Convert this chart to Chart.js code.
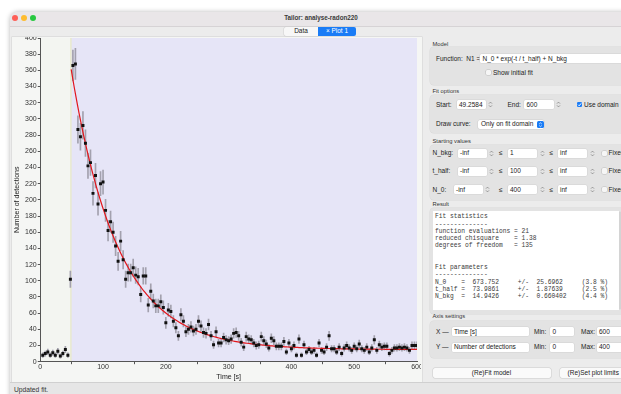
<!DOCTYPE html>
<html><head><meta charset="utf-8">
<title>Tailor: analyse-radon220</title>
<script src="https://cdn.jsdelivr.net/npm/chart.js@4.4.1/dist/chart.umd.min.js"></script>
<style>
html,body{margin:0;padding:0;}
body{width:621px;height:394px;overflow:hidden;position:relative;background:#fff;font-family:"Liberation Sans",Arial,Helvetica,sans-serif;color:#222;}
#ui div{position:absolute;white-space:pre;}
#ui svg{display:block;}
#plotw{position:absolute;left:12px;top:37px;width:409px;height:345px;background:#f5f6f4;overflow:hidden;}
#c{display:block;position:absolute;left:0;top:-4px;}
</style></head><body>
<div id="ui"></div>
<div id="plotw"><canvas id="c" width="409" height="349"></canvas></div>
<script>
// ---------- data ----------
const times = [
  4, 8, 12, 16, 20, 24, 28, 32, 36, 40,
  44, 48, 52, 56, 60, 64, 68, 72, 76, 80,
  84, 88, 92, 96, 100, 104, 108, 112, 116, 120,
  124, 128, 132, 136, 140, 144, 148, 152, 156, 160,
  164, 168, 172, 176, 180, 184, 188, 192, 196, 200,
  204, 208, 212, 216, 220, 224, 228, 232, 236, 240,
  244, 248, 252, 256, 260, 264, 268, 272, 276, 280,
  284, 288, 292, 296, 300, 304, 308, 312, 316, 320,
  324, 328, 332, 336, 340, 344, 348, 352, 356, 360,
  364, 368, 372, 376, 380, 384, 388, 392, 396, 400,
  404, 408, 412, 416, 420, 424, 428, 432, 436, 440,
  444, 448, 452, 456, 460, 464, 468, 472, 476, 480,
  484, 488, 492, 496, 500, 504, 508, 512, 516, 520,
  524, 528, 532, 536, 540, 544, 548, 552, 556, 560,
  564, 568, 572, 576, 580, 584, 588, 592, 596, 600
];
const counts = [
  8, 10, 12, 8, 11, 8, 13, 7, 10, 15,
  8, 102, 366, 368, 287, 278, 292, 270, 242, 246,
  208, 230, 195, 220, 222, 187, 162, 173, 160, 143,
  124, 149, 126, 102, 110, 110, 116, 107, 105, 83,
  106, 106, 70, 87, 75, 69, 69, 74, 67, 48,
  64, 62, 50, 42, 32, 58, 50, 37, 40, 43,
  38, 40, 50, 44, 36, 35, 46, 32, 21, 37,
  23, 23, 30, 27, 26, 28, 35, 36, 32, 24,
  18, 31, 28, 27, 23, 20, 21, 31, 26, 22,
  17, 29, 26, 19, 19, 19, 25, 12, 23, 16,
  20, 8, 28, 8, 21, 12, 15, 12, 14, 8,
  23, 14, 12, 18, 32, 16, 16, 12, 18, 10,
  17, 20, 17, 14, 19, 16, 22, 16, 14, 18,
  12, 17, 27, 14, 21, 18, 19, 19, 10, 14,
  17, 17, 18, 17, 18, 17, 14, 20, 20, 20
];
const fitDomain = [49.2584, 600];
const fitParams = [673.752, 73.9861, 14.9426]; // N_0, t_half, N_bkg
const xRange = [0, 600];
const yRange = [0, 400];
const xTickStep = 100;
const yTickStep = 20;

// ---------- window chrome / side panel ----------
const ui = document.getElementById('ui');
function el(css, txt){ const d=document.createElement('div'); d.style.cssText=css; if(txt!=null) d.textContent=txt; ui.appendChild(d); return d; }
function box(x,y,w,h,css){ return el(`left:${x}px;top:${y}px;width:${w}px;height:${h}px;${css||''}`); }
function txt(x,yc,s,css,fs){ fs=fs||6.5; return el(`left:${x}px;top:${yc-5}px;height:10px;line-height:10px;font-size:${fs}px;color:#222;${css||''}`, s); }
function inp(x,yc,w,s){ box(x,yc-4.5,w,9,'background:#fff;border-radius:1.5px;box-shadow:0 0 0 0.5px #d2d2d2'); txt(x+2.5,yc,s); }
function spin(x,yc){ const d=box(x,yc-4.5,5,9,''); d.innerHTML='<svg width="5" height="9" viewBox="0 0 5 9"><path d="M1 3.6L2.5 2.1L4 3.6M1 5.4L2.5 6.9L4 5.4" fill="none" stroke="#777" stroke-width="0.7"/></svg>'; }
function chk(x,yc,on){ const d=box(x,yc-2.6,5.2,5.2, on?'background:#1a7cf6;border-radius:1.3px':'background:#f6f6f6;border-radius:1.3px;box-shadow:0 0 0 0.5px #bdbdbd'); if(on) d.innerHTML='<svg width="5.2" height="5.2" viewBox="0 0 5 5"><path d="M1 2.6L2.1 3.7L4 1.3" fill="none" stroke="#fff" stroke-width="0.9"/></svg>'; }
function grp(y,h){ box(430,y,220,h,'background:#e3e3e3;border-radius:4px;box-shadow:0 0 0 0.5px #d8d8d8'); }
function gtitle(y,s){ txt(432.5,y,s,'color:#333',5.8); }

// window
box(10,12,640,400,'background:#ececec;border-radius:8px 8px 0 0;box-shadow:0 0 5px rgba(0,0,0,0.28)');
box(10,12,640,14,'background:#e9e6e8;border-radius:8px 8px 0 0;border-bottom:0.5px solid #d6d3d5');
box(12,15,6,6,'background:#fe5f57;border-radius:50%');
box(21,15,6,6,'background:#febc2e;border-radius:50%');
box(30,15,6,6,'background:#28c840;border-radius:50%');
el('left:221px;top:13px;width:200px;height:10px;line-height:10px;text-align:center;font-size:6.3px;font-weight:bold;color:#3a3a3a','Tailor: analyse-radon220');
// tabs
box(284,27,34,8.5,'background:#f7f7f7;border-radius:2px 0 0 2px;box-shadow:0 0 0 0.5px #cfcfcf');
el('left:284px;top:26.3px;width:34px;height:10px;line-height:10px;text-align:center;font-size:6.5px;color:#222','Data');
box(318,27,38,8.5,'background:#1a7cf6;border-radius:0 2px 2px 0');
el('left:318px;top:26.3px;width:38px;height:10px;line-height:10px;text-align:center;font-size:6.5px;color:#fff','× Plot 1');
// plot widget frame
box(11.5,36.5,410,346,'background:#f5f6f4;box-shadow:0 0 0 0.5px #cfcfcf');
// status bar
box(10,382,640,12,'background:#e6e6e6;border-top:0.5px solid #d0d0d0');
txt(14,389.5,'Updated fit.','color:#333',6.7);

// Model
gtitle(44,'Model');
grp(47,38);
txt(436,58.5,'Function:  N1 =');
inp(480,58.5,160,'N_0 * exp(-t / t_half) + N_bkg');
chk(486,72.7,false); txt(493,72.7,'Show initial fit');
// Fit options
gtitle(91.3,'Fit options');
grp(95,37.7);
txt(436,104.7,'Start:');
inp(456.5,104.7,29,'49.2584'); spin(487.5,104.7);
txt(507.5,104.7,'End:');
inp(524,104.7,29.5,'600'); spin(556,104.7);
chk(576.5,104.7,true); txt(584,104.7,'Use domain');
txt(436,124.3,'Draw curve:');
box(477.5,119.5,66.5,9.5,'background:#fff;border-radius:2px;box-shadow:0 0 0 0.5px #cfcfcf');
txt(481,124.3,'Only on fit domain');
box(536.5,120.5,7,7.5,'background:#1a7cf6;border-radius:1.5px');
box(536.5,120.5,7,7.5,'').innerHTML='<svg width="7" height="7.5" viewBox="0 0 7 7.5"><path d="M2.2 3L3.5 1.8L4.8 3M2.2 4.5L3.5 5.7L4.8 4.5" fill="none" stroke="#fff" stroke-width="0.7"/></svg>';
// Starting values
gtitle(141,'Starting values');
grp(145,54.5);
const svNames = ['N_bkg:', 't_half:', 'N_0:'];
const svStart = ['1', '100', '400'];
const svY = [153.2, 171, 189.5];
const svX0 = [457.5, 457.5, 453.5];
svNames.forEach((n,i)=>{
  const yc = svY[i];
  txt(432.5,yc,n);
  inp(svX0[i],yc,29,'-inf'); spin(svX0[i]+31.5,yc);
  txt(499,yc,'≤');
  inp(507.5,yc,29.5,svStart[i]); spin(539.5,yc);
  txt(549.5,yc,'≤');
  inp(557.5,yc,29.5,'inf'); spin(589.5,yc);
  chk(601.5,yc,false); txt(608.5,yc,'Fixed');
});
// Result
gtitle(204.3,'Result');
grp(208,106);
box(432.5,210.7,188,99.5,'background:#fff');
box(618.6,211,2.4,99,'background:#d4d4d4;border-radius:1px');
const resultLines = [
  'Fit statistics',
  '--------------',
  'function evaluations = 21',
  'reduced chisquare    = 1.38',
  'degrees of freedom   = 135',
  '',
  '',
  'Fit parameters',
  '--------------',
  'N_0    =  673.752     +/-  25.6962     (3.8 %)',
  't_half =  73.9861     +/-  1.87639     (2.5 %)',
  'N_bkg  =  14.9426     +/-  0.660402    (4.4 %)'
];
resultLines.forEach((s,i)=>{
  if(!s) return;
  el(`left:435px;top:${217.3+i*7.25-4}px;height:8px;line-height:8px;font-size:6.27px;font-family:"Liberation Mono","DejaVu Sans Mono",monospace;color:#3a3a3a;white-space:pre`, s);
});
// Axis settings
gtitle(315.7,'Axis settings');
grp(321,36.7);
const axNames = ['X —','Y —'];
const axTitles = ['Time [s]','Number of detections'];
const axMin = ['0','0'];
const axMax = ['600','400'];
[331.7,347].forEach((yc,i)=>{
  txt(436,yc,axNames[i]);
  inp(451.5,yc,77,axTitles[i]);
  txt(534,yc,'Min:');
  inp(550,yc,24,axMin[i]);
  txt(581,yc,'Max:');
  inp(596.5,yc,40,axMax[i]);
});
// buttons
box(432.5,368.3,118,9.4,'background:#fafafa;border-radius:2px;box-shadow:0 0 0 0.5px #c9c9c9');
el('left:432.5px;top:368px;width:118px;height:10px;line-height:10px;text-align:center;font-size:6.5px;color:#222','(Re)Fit model');
box(559.5,368.3,67.5,9.4,'background:#fafafa;border-radius:2px;box-shadow:0 0 0 0.5px #c9c9c9');
el('left:559.5px;top:368px;width:67.5px;height:10px;line-height:10px;text-align:center;font-size:6.5px;color:#222','(Re)Set plot limits');

// ---------- chart ----------
const [N0, tHalf, NBkg] = fitParams;
const points = counts.map((n,i)=>({x:times[i], y:n}));
const errBars = counts.map((n,i)=>({x:times[i], y:[n-Math.sqrt(n), n+Math.sqrt(n)]}));
const curve = [];
for(let i=0;i<=220;i++){ const t = fitDomain[0] + (fitDomain[1]-fitDomain[0])*i/220; curve.push({x:t, y:N0*Math.exp(-t/tHalf)+NBkg}); }

const shade = {
  id:'shade',
  beforeDraw(chart){
    const {ctx, chartArea:a, scales:{x}} = chart;
    const xs = x.getPixelForValue(fitDomain[0]);
    const xe = x.getPixelForValue(fitDomain[1]);
    ctx.save();
    ctx.fillStyle = '#f3f5f1';
    ctx.fillRect(a.left, a.top, xs-a.left, a.bottom-a.top);
    ctx.fillStyle = '#e6e5f7';
    ctx.fillRect(xs, a.top, xe-xs, a.bottom-a.top);
    ctx.fillStyle = '#e8e8cc';
    ctx.fillRect(xs-1, a.top, 1.4, a.bottom-a.top);
    ctx.restore();
  }
};
const F = '"Liberation Sans", Arial, sans-serif';
new Chart(document.getElementById('c'), {
  type:'scatter',
  data:{datasets:[
    {type:'scatter', data:points, pointStyle:'rect', pointRadius:2.1, pointBackgroundColor:'#111', pointBorderWidth:0, order:0},
    {type:'line', data:curve, borderColor:'#e3161c', borderWidth:1.2, pointRadius:0, fill:false, tension:0, order:1},
    {type:'bar', data:errBars, backgroundColor:'#a3a1ae', barThickness:1, grouped:false, order:2}
  ]},
  options:{
    responsive:false, animation:false, devicePixelRatio:1,
    layout:{padding:{top:5,right:2,left:0,bottom:0}},
    plugins:{legend:{display:false}, tooltip:{enabled:false}},
    scales:{
      x:{type:'linear', min:xRange[0], max:xRange[1], offset:false,
        afterFit(s){ s.height=20.3; s.paddingLeft=0; s.paddingRight=0; },
        grid:{display:true, drawOnChartArea:false, drawTicks:true, tickLength:2.5, tickColor:'#555'},
        border:{display:true, color:'#555', width:1},
        ticks:{stepSize:xTickStep, font:{size:7, family:F}, color:'#333', padding:-1, maxRotation:0, autoSkip:false},
        title:{display:true, text:'Time [s]', font:{size:7, family:F}, color:'#222', padding:{top:0,bottom:0.5}}
      },
      y:{type:'linear', min:yRange[0], max:yRange[1],
        afterFit(s){ s.width=28.25; s.paddingTop=0; s.paddingBottom=0; },
        grid:{display:true, drawOnChartArea:false, drawTicks:true, tickLength:2.5, tickColor:'#555'},
        border:{display:true, color:'#555', width:1},
        ticks:{stepSize:yTickStep, font:{size:7, family:F}, color:'#333', padding:1, autoSkip:false},
        title:{display:true, text:'Number of detections', font:{size:7, family:F}, color:'#222', padding:{top:0.5,bottom:0}}
      }
    }
  },
  plugins:[shade]
});
</script>
</body></html>
